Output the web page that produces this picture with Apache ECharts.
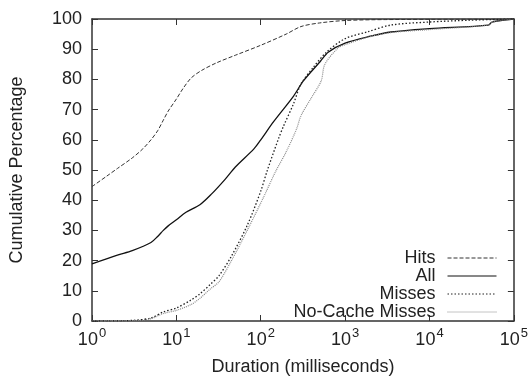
<!DOCTYPE html>
<html>
<head>
<meta charset="utf-8">
<script src="https://cdn.jsdelivr.net/npm/echarts@6/dist/echarts.min.js"></script>
<style>html,body{margin:0;padding:0;background:#fff;}#c{width:531px;height:381px;}</style>
</head>
<body>
<div id="c"></div>
<script>
var seriesNames = ['Hits', 'All', 'Misses', 'No-Cache Misses'];
var hits = [[1,44.5],[1.5,48],[2,50.5],[3,54],[4,57],[5,60],[6,63],[7,66.5],[8,69.5],[10,73.5],[12,77],[15,80.5],[20,83],[30,85.5],[50,88],[100,91.3],[200,95],[300,97.5],[500,98.7],[1000,99.5],[3000,99.8],[100000,100]];
var all = [[1,18.9],[2,21.8],[3,23.3],[5,26],[6,28],[7,30],[8,31.5],[10,33.5],[13,36],[19,38.5],[26,42],[38,47],[50,51],[83,57],[100,60],[142,66],[245,74.5],[320,79.5],[510,86],[630,89],[1000,92],[2000,94.3],[3500,95.7],[10000,96.8],[50000,98],[55000,99],[100000,100]];
var misses = [[1,0],[3,0.2],[5,1],[7,3],[10,4.3],[15,7],[19,9],[25,12],[32,15],[45,21.5],[70,32],[100,43],[120,50],[163,60.5],[186,64.5],[245,72],[300,78.5],[420,84],[600,89],[1000,93.5],[1870,95.8],[3500,98],[10000,99],[30000,99.6],[100000,100]];
var noCache = [[1,0],[3,0.1],[5,0.8],[7,2.5],[10,3.5],[15,5.5],[19,7.5],[25,10.5],[32,13],[45,20],[72,31],[108,41],[150,49.5],[200,56],[265,63.5],[300,68],[400,74],[520,79.5],[575,85],[830,90.5],[1000,91.5],[1870,94],[3500,95.5],[10000,96.5],[50000,98],[55000,99],[100000,100]];
var yTicks = [0,10,20,30,40,50,60,70,80,90,100];

var chart = echarts.init(document.getElementById('c'), null, {renderer: 'canvas'});
var fontFam = 'Liberation Sans, Arial, sans-serif';
var txt = '#222';
var axisLineStyle = {color: '#333', width: 1.5};
function xfmt(v){ return '{b|10}{s|' + Math.round(Math.log10(v)) + '}'; }
var option = {
  animation: false,
  backgroundColor: '#fff',
  textStyle: {fontFamily: fontFam},
  grid: {left: 92, right: 14, top: 19, bottom: 55, show: false},
  legend: {
    orient: 'vertical', right: 29, top: 244, align: 'right',
    itemWidth: 49, itemHeight: 18, itemGap: 0,
    itemStyle: {opacity: 0},
    lineStyle: {width: 1},
    textStyle: {fontSize: 18, color: txt, fontFamily: fontFam, padding: [0, 7, 0, 0]},
    data: seriesNames
  },
  xAxis: [{
    type: 'log', logBase: 10, min: 1, max: 100000,
    name: 'Duration (milliseconds)', nameLocation: 'middle', nameGap: 37,
    nameTextStyle: {fontSize: 18, color: txt},
    axisLine: {show: true, onZero: false, lineStyle: axisLineStyle},
    axisTick: {show: true, inside: true, length: 6, lineStyle: {color: '#333'}},
    minorTick: {show: false},
    splitLine: {show: false},
    axisLabel: {formatter: xfmt, margin: 6, rich: {
      b: {fontSize: 18, color: txt, fontFamily: fontFam, lineHeight: 22, verticalAlign: 'bottom'},
      s: {fontSize: 13, color: txt, fontFamily: fontFam, lineHeight: 22, verticalAlign: 'top', padding: [0,0,0,1]}
    }}
  }, {
    type: 'log', logBase: 10, min: 1, max: 100000, position: 'top',
    axisLine: {show: true, onZero: false, lineStyle: axisLineStyle},
    axisTick: {show: true, inside: true, length: 6, lineStyle: {color: '#333'}},
    axisLabel: {show: false}, splitLine: {show: false}
  }],
  yAxis: [{
    type: 'value', min: 0, max: 100, interval: 10,
    name: 'Cumulative Percentage', nameLocation: 'middle', nameGap: 66, nameRotate: 90,
    nameTextStyle: {fontSize: 18, color: txt},
    axisLine: {show: true, lineStyle: axisLineStyle},
    axisTick: {show: true, inside: true, length: 6, lineStyle: {color: '#333'}},
    splitLine: {show: false},
    axisLabel: {fontSize: 18, color: txt, margin: 10}
  }, {
    type: 'value', min: 0, max: 100, interval: 10, position: 'right',
    axisLine: {show: true, lineStyle: axisLineStyle},
    axisTick: {show: true, inside: true, length: 6, lineStyle: {color: '#333'}},
    splitLine: {show: false}, axisLabel: {show: false}
  }],
  series: [
    {name: 'Hits', type: 'line', data: hits, symbol: 'none', smooth: 0.3,
     lineStyle: {color: '#333', width: 1, type: [4, 2]}, itemStyle: {color: '#333'}},
    {name: 'All', type: 'line', data: all, symbol: 'none', smooth: 0.3,
     lineStyle: {color: '#111', width: 1.3, type: 'solid'}, itemStyle: {color: '#111'}},
    {name: 'Misses', type: 'line', data: misses, symbol: 'none', smooth: 0.3,
     lineStyle: {color: '#222', width: 1.3, type: [1.5, 2]}, itemStyle: {color: '#222'}},
    {name: 'No-Cache Misses', type: 'line', data: noCache, symbol: 'none', smooth: 0.3,
     lineStyle: {color: '#888', width: 1.2, type: [1, 1]}, itemStyle: {color: '#888'}}
  ]
};
chart.setOption(option);
</script>
</body>
</html>
